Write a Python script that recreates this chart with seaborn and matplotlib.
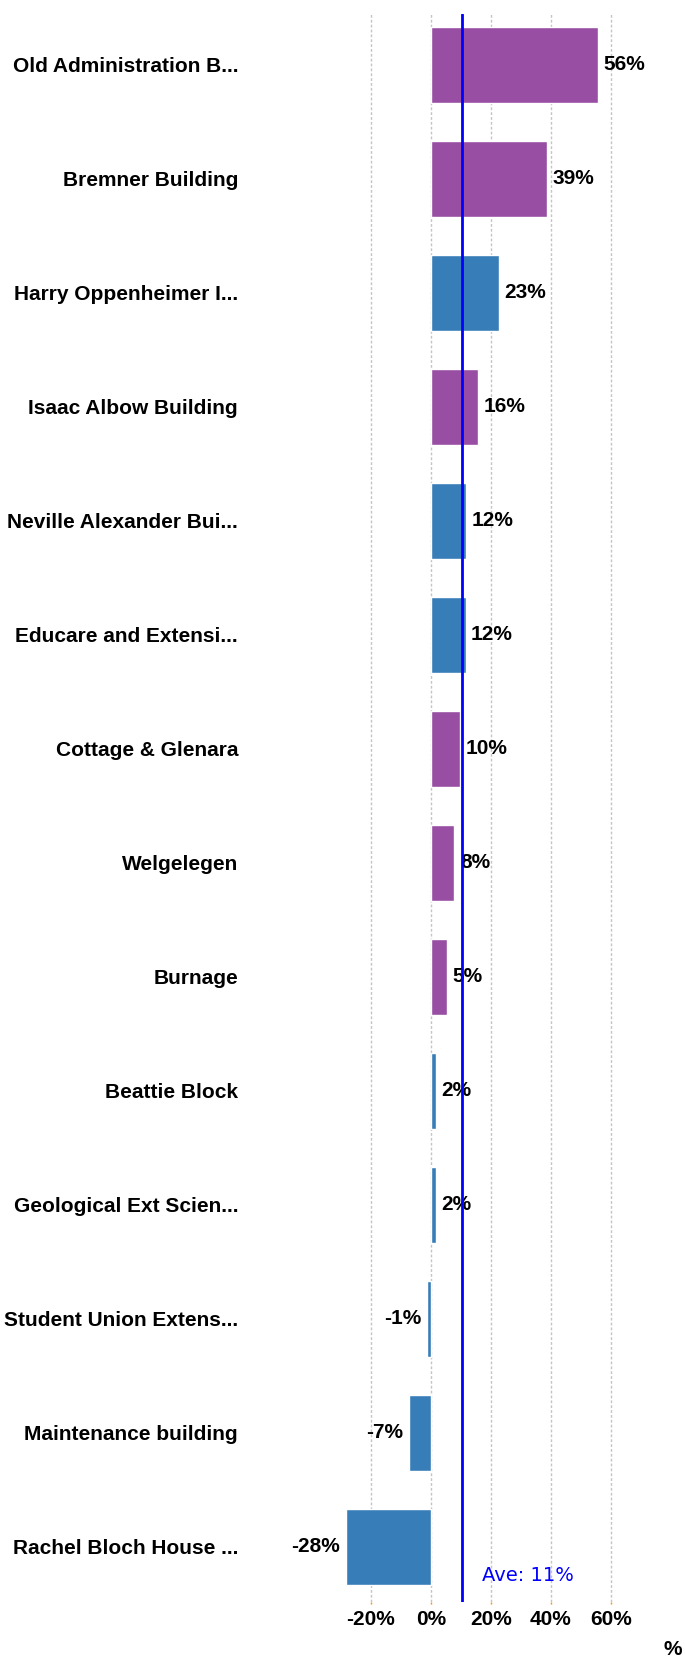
import numpy as np
import pandas as pd
import matplotlib
matplotlib.use('Agg')
import matplotlib.pyplot as plt
import matplotlib.transforms as mtransforms
import seaborn as sns

# data
buildings = ['Old Administration B...', 'Bremner Building', 'Harry Oppenheimer I...',
             'Isaac Albow Building', 'Neville Alexander Bui...', 'Educare and Extensi...',
             'Cottage & Glenara', 'Welgelegen', 'Burnage', 'Beattie Block',
             'Geological Ext Scien...', 'Student Union Extens...', 'Maintenance building',
             'Rachel Bloch House ...']
change_pct = [55.8, 38.9, 22.6, 15.8, 11.9, 11.6, 9.8, 7.9, 5.4, 1.8, 1.8, -1.3, -7.4, -28.4]
groups = ['A', 'A', 'B', 'A', 'B', 'B', 'A', 'A', 'A', 'B', 'B', 'B', 'B', 'B']
group_colors = {'A': '#984EA3', 'B': '#377EB8'}
avg_value = 10.4
avg_label = 'Ave: 11%'
x_ticks = [-20, 0, 20, 40, 60]
x_ticklabels = ['-20%', '0%', '20%', '40%', '60%']

df = pd.DataFrame({'building': buildings, 'change': change_pct, 'group': groups})

sns.set_style('white')
plt.rcParams['font.family'] = ['Liberation Sans', 'DejaVu Sans']
plt.rcParams['text.color'] = 'black'
plt.rcParams['xtick.color'] = 'black'
plt.rcParams['ytick.color'] = 'black'

fig = plt.figure(figsize=(6.85, 16.57), dpi=100)
ax = fig.add_axes([245 / 685, 1 - 1602 / 1657, (680 - 245) / 685, (1602 - 14) / 1657])

sns.barplot(data=df, x='change', y='building', hue='group', palette=group_colors,
            dodge=False, width=0.664, legend=False, saturation=1, ax=ax)

for cont in ax.containers:
    ax.bar_label(cont, fmt='{:.0f}%', padding=4, fontsize=15, fontweight='bold', color='black')

# average line
ax.axvline(avg_value, color='#0000FF', lw=2, zorder=5)
trans = mtransforms.blended_transform_factory(ax.transData, ax.transAxes)
ax.text(avg_value + 6.8, 0.013, avg_label, transform=trans, color='#0000FF',
        fontsize=14, family='DejaVu Sans', va='baseline', ha='left')

ax.set_xlim(-61.9, 83.1)
ax.set_ylim(13.483, -0.4465)
ax.set_xticks(x_ticks)
ax.set_xticklabels(x_ticklabels, fontsize=15, fontweight='bold')
ax.tick_params(axis='x', length=1.5, width=1, color='#ff8c00', labelcolor='black', pad=4, bottom=True)
ax.tick_params(axis='y', length=0, pad=5, labelsize=15, labelcolor='black')
for lbl in ax.get_yticklabels():
    lbl.set_fontweight('bold')

ax.grid(axis='x', linestyle=(0, (2, 1.5)), color='#c4c4c4', lw=1)
ax.grid(axis='y', visible=False)
ax.set_axisbelow(True)
sns.despine(ax=ax, left=True, bottom=True)
ax.set_xlabel('')
ax.set_ylabel('')

fig.text(682 / 685, 2 / 1657, '%', ha='right', va='baseline', fontsize=15, fontweight='bold')

fig.savefig('out.png', dpi=100)
